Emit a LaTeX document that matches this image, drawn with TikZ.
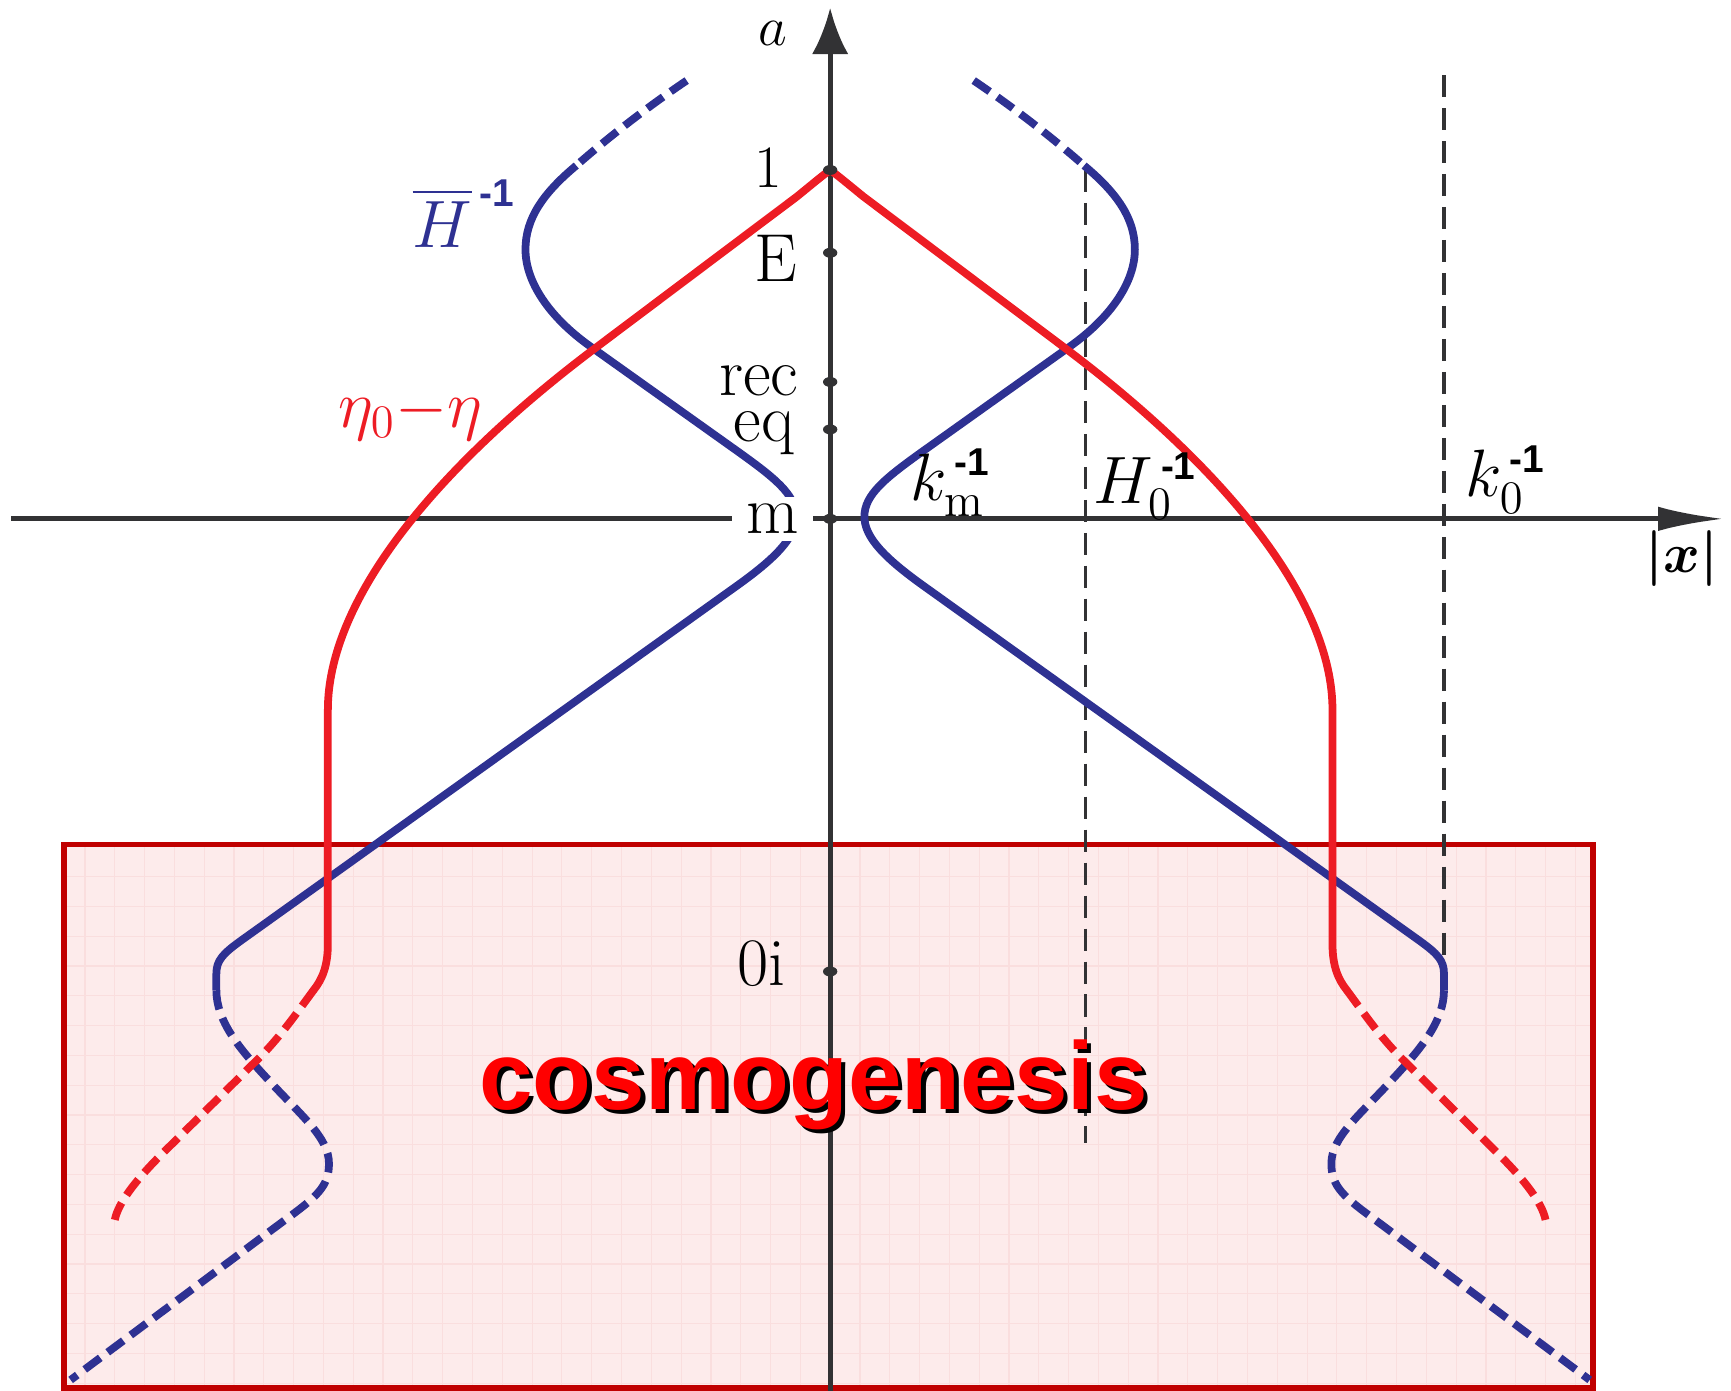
\documentclass[tikz,border=0pt]{standalone}
\usepackage{amsmath,bm}
\usepackage{fontspec}
\usepackage{tikz}
\usetikzlibrary{arrows.meta}
\newfontfamily\sansbold{Liberation Sans}
\definecolor{figaxis}{RGB}{50,50,52}
\definecolor{figred}{RGB}{237,28,36}
\definecolor{figblue}{RGB}{46,49,146}
\definecolor{boxline}{RGB}{192,0,0}
\definecolor{boxfill}{RGB}{253,235,235}
\definecolor{boxgrid}{RGB}{250,222,222}
\definecolor{titlered}{RGB}{255,0,0}
\newcommand{\minusone}{\hbox{\sansbold\bfseries\fontsize{10}{11}\selectfont -1}}
\tikzset{
  ax/.style   ={draw=figaxis, line width=1.3pt},
  refl/.style ={draw=figaxis, line width=0.8pt, dash pattern=on 5.7pt off 2.8pt},
  crv/.style  ={line width=2pt, line cap=butt, line join=round},
  crvd/.style ={crv, dash pattern=on 5pt off 2.4pt},
  lab/.style  ={font=\fontsize{17.5}{20}\selectfont, inner sep=0pt},
  labs/.style ={font=\fontsize{15.5}{18}\selectfont, inner sep=0pt},
  ttl/.style  ={font=\sansbold\bfseries\fontsize{24.8}{28}\selectfont, inner sep=0pt},
}

\begin{document}
\begin{tikzpicture}
  \useasboundingbox (-7.52,-7.90) rectangle (8.16,4.70);
  % cosmogenesis panel
  \fill[boxfill] (-6.94,-7.87) rectangle (6.91,-2.95);
  \draw[boxgrid, line width=0.3pt, step=0.27] (-6.94,-7.87) grid (6.91,-2.95);
  \draw[boxline, line width=1.5pt] (-6.94,-7.87) rectangle (6.91,-2.95);
  % axes
  \draw[ax, -{Latex[length=4.2mm,width=3.3mm]}] (0,-7.90) -- (0,4.63);
  \draw[ax, -{Latex[length=6mm,width=2.2mm]}] (-7.42,0) -- (8.10,0);
  \draw[refl] (2.31,3.16) -- (2.31,-5.65);
  \draw[refl] (5.56,4.02) -- (5.56,-4.06);
  \begin{scope}[xscale=1]
  \draw[crvd, figblue] (1.30,3.97) .. controls (1.70,3.70) and (2.05,3.42) .. (2.30,3.20);
  \draw[crv, figblue] (2.30,3.20) .. controls (2.60,2.95) and (2.76,2.72) .. (2.76,2.44)
    .. controls (2.76,2.15) and (2.55,1.83) .. (2.17,1.56) -- (0.85,0.62)
    .. controls (0.50,0.37) and (0.31,0.22) .. (0.31,0.02)
    .. controls (0.31,-0.17) and (0.50,-0.36) .. (0.85,-0.61) -- (5.35,-3.83)
    .. controls (5.50,-3.94) and (5.56,-4.00) .. (5.56,-4.12) -- (5.56,-4.27);
  \draw[crvd, figblue] (5.56,-4.27) .. controls (5.56,-4.55) and (5.35,-4.80) .. (5.10,-5.07)
    .. controls (4.80,-5.40) and (4.54,-5.60) .. (4.54,-5.84)
    .. controls (4.54,-6.05) and (4.65,-6.14) .. (4.95,-6.36) -- (6.88,-7.80);
  \draw[crv, figred, line cap=round] (0,3.16) .. controls (0.08,3.10) .. (0.30,2.92) -- (2.11,1.56)
    .. controls (3.61,0.435) and (4.55,-0.75) .. (4.55,-1.73) -- (4.55,-3.85)
    .. controls (4.55,-4.05) and (4.60,-4.17) .. (4.68,-4.27);
  \draw[crvd, figred] (4.68,-4.27) .. controls (4.85,-4.50) and (5.00,-4.72) .. (5.22,-4.93)
    -- (6.05,-5.75) .. controls (6.30,-6.00) and (6.45,-6.20) .. (6.48,-6.35);
  \end{scope}
  \begin{scope}[xscale=-1]
  \draw[crvd, figblue] (1.30,3.97) .. controls (1.70,3.70) and (2.05,3.42) .. (2.30,3.20);
  \draw[crv, figblue] (2.30,3.20) .. controls (2.60,2.95) and (2.76,2.72) .. (2.76,2.44)
    .. controls (2.76,2.15) and (2.55,1.83) .. (2.17,1.56) -- (0.85,0.62)
    .. controls (0.50,0.37) and (0.31,0.22) .. (0.31,0.02)
    .. controls (0.31,-0.17) and (0.50,-0.36) .. (0.85,-0.61) -- (5.35,-3.83)
    .. controls (5.50,-3.94) and (5.56,-4.00) .. (5.56,-4.12) -- (5.56,-4.27);
  \draw[crvd, figblue] (5.56,-4.27) .. controls (5.56,-4.55) and (5.35,-4.80) .. (5.10,-5.07)
    .. controls (4.80,-5.40) and (4.54,-5.60) .. (4.54,-5.84)
    .. controls (4.54,-6.05) and (4.65,-6.14) .. (4.95,-6.36) -- (6.88,-7.80);
  \draw[crv, figred, line cap=round] (0,3.16) .. controls (0.08,3.10) .. (0.30,2.92) -- (2.11,1.56)
    .. controls (3.61,0.435) and (4.55,-0.75) .. (4.55,-1.73) -- (4.55,-3.85)
    .. controls (4.55,-4.05) and (4.60,-4.17) .. (4.68,-4.27);
  \draw[crvd, figred] (4.68,-4.27) .. controls (4.85,-4.50) and (5.00,-4.72) .. (5.22,-4.93)
    -- (6.05,-5.75) .. controls (6.30,-6.00) and (6.45,-6.20) .. (6.48,-6.35);
  \end{scope}
  % epochs on the a axis
  \fill[figaxis] (0,3.16) ellipse (0.065 and 0.045);
  \fill[figaxis] (0,2.41) ellipse (0.065 and 0.045);
  \fill[figaxis] (0,1.24) ellipse (0.065 and 0.045);
  \fill[figaxis] (0,0.81) ellipse (0.065 and 0.045);
  \fill[figaxis] (0,0) ellipse (0.065 and 0.045);
  \fill[figaxis] (0,-4.10) ellipse (0.065 and 0.045);
  \node[labs, anchor=base east] (ep1) at (-0.43,3.00) {1};
  \node[lab, anchor=base east] (epE) at (-0.29,2.15) {E};
  \node[lab, anchor=base east] (eprec) at (-0.28,1.12) {rec};
  \node[lab, anchor=base east] (epeq) at (-0.32,0.70) {eq};
  \node[lab, fill=white, minimum width=0.73cm, minimum height=0.40cm] (epm) at (-0.52,0) {m};
  \node[lab, anchor=base east] (ep0i) at (-0.40,-4.23) {0i};
  \node[labs, anchor=base west] (laba) at (-0.66,4.29) {$a$};
  \node[labs, anchor=base west] (labx) at (7.38,-0.49) {$\bm{|x|}$};
  \node[lab, anchor=base west] (labkm) at (0.72,0.17) {$k_{\mathrm{m}}^{\,\minusone}$};
  \node[lab, anchor=base west] (labH0) at (2.38,0.14) {$H_{0}^{\,\minusone}$};
  \node[lab, anchor=base west] (labk0) at (5.75,0.20) {$k_{0}^{\,\minusone}$};
  \node[lab, anchor=base west, text=figblue] (labHb) at (-3.79,2.46) {$\overline{H}^{\,\minusone}$};
  \node[lab, anchor=base west, text=figred] (labeta) at (-4.46,0.83) {$\eta_{0}{-}\eta$};
  % title
  \node[ttl, anchor=base, text=black] (ttlshadow) at (-0.11,-5.39) {cosmogenesis};
  \node[ttl, anchor=base, text=titlered] (ttltext) at (-0.15,-5.35) {cosmogenesis};
\end{tikzpicture}
\end{document}
